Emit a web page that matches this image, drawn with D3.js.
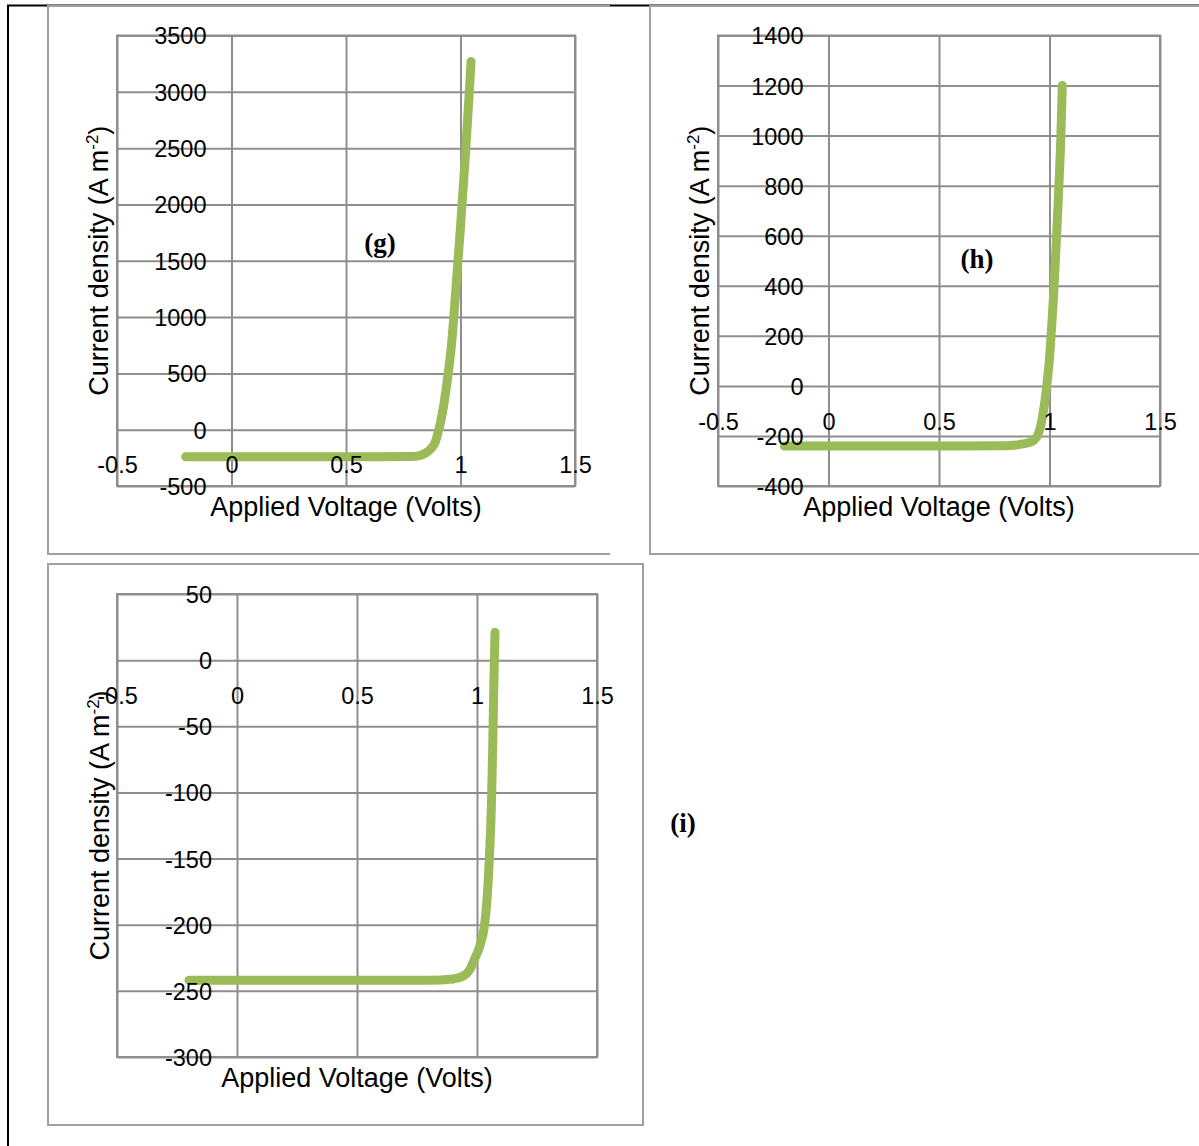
<!DOCTYPE html>
<html>
<head>
<meta charset="utf-8">
<script src="https://cdn.jsdelivr.net/npm/d3@7"></script>
<style>
body { margin: 0; background: #fff; }
</style>
</head>
<body>
<svg id="canvas_svg" width="1199" height="1146"></svg>
<script>
// values
var xTicks = [-0.5, 0, 0.5, 1, 1.5];

var voltsG   = [-0.2, 0.2, 0.6, 0.78, 0.82, 0.85, 0.87, 0.89, 0.90, 0.91, 0.92, 0.93, 0.94, 0.95, 0.96, 0.98, 1.00, 1.02, 1.04, 1.046];
var currentG = [-240, -240, -240, -239, -230, -205, -170, -110, -40, 40, 140, 260, 400, 560, 740, 1250, 1800, 2400, 3050, 3270];
var yTicksG  = [-500, 0, 500, 1000, 1500, 2000, 2500, 3000, 3500];

var voltsH   = [-0.2, 0.2, 0.6, 0.80, 0.85, 0.88, 0.91, 0.93, 0.945, 0.96, 0.97, 0.98, 0.99, 1.00, 1.01, 1.02, 1.03, 1.04, 1.05, 1.058];
var currentH = [-240, -240, -240, -239, -236, -232, -226, -216, -200, -160, -115, -55, 20, 110, 240, 385, 560, 750, 960, 1200];
var yTicksH  = [-400, -200, 0, 200, 400, 600, 800, 1000, 1200, 1400];

var voltsI   = [-0.2, 0.2, 0.6, 0.8, 0.9, 0.94, 0.97, 0.99, 1.01, 1.03, 1.04, 1.05, 1.06, 1.065, 1.07, 1.075];
var currentI = [-242, -242, -242, -242, -241, -239, -234, -226, -217, -202, -185, -155, -110, -70, -20, 21];
var yTicksI  = [-300, -250, -200, -150, -100, -50, 0, 50];

var svg = d3.select("#canvas_svg");

var gridColour = "#8e8e8e";
var lineColour = "#9bbb59";
var sans = "'Liberation Sans', Arial, sans-serif";

// outer table borders
svg.append("path")
  .attr("d", "M1199,5.5H8V1146")
  .attr("fill", "none").attr("stroke", "#000").attr("stroke-width", 2);

// panel frames (g and h are cut on the right)
svg.append("path").attr("d", "M610,6H48V554H610")
  .attr("fill", "none").attr("stroke", "#a0a0a0").attr("stroke-width", 2);
svg.append("path").attr("d", "M1199,6H650V554H1199")
  .attr("fill", "none").attr("stroke", "#a0a0a0").attr("stroke-width", 2);
svg.append("rect").attr("x", 48).attr("y", 564).attr("width", 595).attr("height", 561)
  .attr("fill", "none").attr("stroke", "#a0a0a0").attr("stroke-width", 2);

function drawPanel(p) {
  var x = d3.scaleLinear().domain([-0.5, 1.5]).range([p.left, p.right]);
  var y = d3.scaleLinear().domain(d3.extent(p.yTicks)).range([p.bottom, p.top]);
  var w = p.right - p.left, h = p.bottom - p.top;

  var g = svg.append("g");

  // gridlines
  g.append("g")
    .attr("transform", "translate(0," + p.bottom + ")")
    .call(d3.axisBottom(x).tickValues(xTicks).tickSize(-h).tickFormat(""))
    .call(s => s.select(".domain").remove())
    .selectAll("line").attr("stroke", gridColour).attr("stroke-width", 2);
  g.append("g")
    .attr("transform", "translate(" + p.left + ",0)")
    .call(d3.axisLeft(y).tickValues(p.yTicks).tickSize(-w).tickFormat(""))
    .call(s => s.select(".domain").remove())
    .selectAll("line").attr("stroke", gridColour).attr("stroke-width", 2);
  g.append("rect")
    .attr("x", p.left).attr("y", p.top).attr("width", w).attr("height", h)
    .attr("fill", "none").attr("stroke", gridColour).attr("stroke-width", 2);

  // curve
  var line = d3.line()
    .x(d => x(d[0]))
    .y(d => y(d[1]))
    .curve(d3.curveMonotoneX);
  g.append("path")
    .datum(d3.zip(p.volts, p.current))
    .attr("d", line)
    .attr("fill", "none")
    .attr("stroke", lineColour)
    .attr("stroke-width", 9)
    .attr("stroke-linecap", "round")
    .attr("stroke-linejoin", "round");

  // tick labels sit next to the axes crossing at 0, on top of the curve
  var yAx = g.append("g")
    .attr("transform", "translate(" + x(0) + ",0)")
    .call(d3.axisLeft(y).tickValues(p.yTicks).tickSize(0).tickPadding(25).tickFormat(d => String(d)));
  yAx.select(".domain").remove();
  yAx.attr("font-family", sans).attr("font-size", 23.5);
  yAx.selectAll("text").attr("fill", "#000").attr("dy", "0.36em");

  var xAx = g.append("g")
    .attr("transform", "translate(0," + y(0) + ")")
    .call(d3.axisBottom(x).tickValues(xTicks).tickSize(0).tickPadding(27).tickFormat(d => String(d)));
  xAx.select(".domain").remove();
  xAx.attr("font-family", sans).attr("font-size", 23.5);
  xAx.selectAll("text").attr("fill", "#000");

  // axis titles
  g.append("text")
    .attr("x", (p.left + p.right) / 2).attr("y", p.bottom + 30)
    .attr("text-anchor", "middle")
    .attr("font-family", sans).attr("font-size", 27)
    .text("Applied Voltage (Volts)");

  var yt = g.append("text")
    .attr("transform", "translate(" + p.titleX + "," + (p.top + p.bottom) / 2 + ") rotate(-90)")
    .attr("text-anchor", "middle")
    .attr("font-family", sans).attr("font-size", 27);
  yt.append("tspan").text("Current density (A m");
  yt.append("tspan").attr("font-size", 17).attr("dy", -10).text("-2");
  yt.append("tspan").attr("dy", 10).text(")");

  // panel letter
  svg.append("text")
    .attr("x", p.labelX).attr("y", p.labelY)
    .attr("text-anchor", "middle")
    .attr("font-family", "'Liberation Serif', 'Times New Roman', serif")
    .attr("font-weight", "bold").attr("font-size", 27)
    .text(p.label);
}

drawPanel({ volts: voltsG, current: currentG, yTicks: yTicksG,
  left: 117, right: 575, top: 35.5, bottom: 486, titleX: 108,
  label: "(g)", labelX: 380, labelY: 252 });

drawPanel({ volts: voltsH, current: currentH, yTicks: yTicksH,
  left: 718, right: 1160, top: 35.5, bottom: 486, titleX: 709,
  label: "(h)", labelX: 977, labelY: 268 });

drawPanel({ volts: voltsI, current: currentI, yTicks: yTicksI,
  left: 117, right: 597, top: 594, bottom: 1057, titleX: 109,
  label: "(i)", labelX: 683, labelY: 832 });
</script>
</body>
</html>
